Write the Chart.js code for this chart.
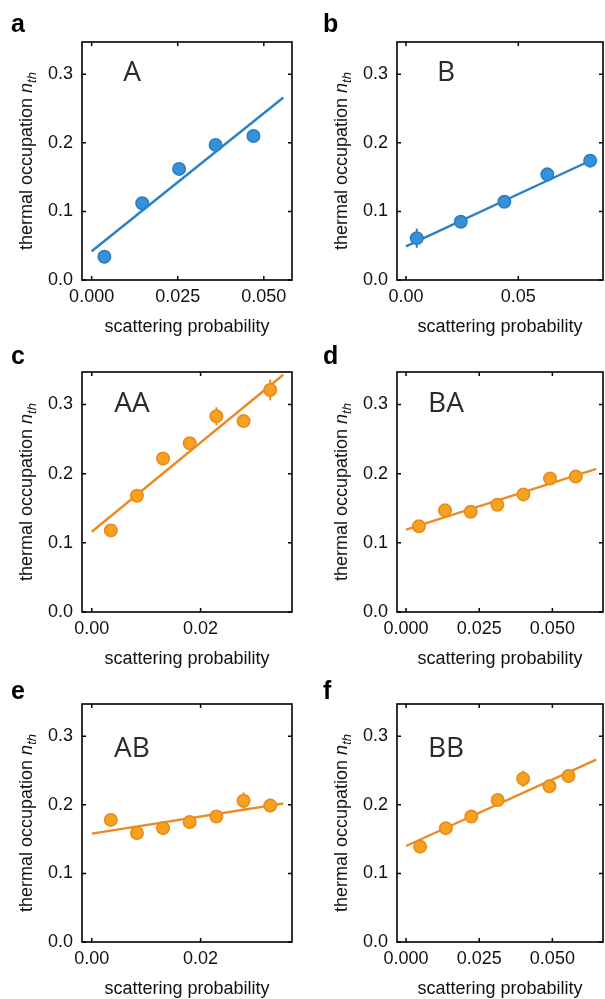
<!DOCTYPE html>
<html>
<head>
<meta charset="utf-8">
<script src="https://cdn.jsdelivr.net/npm/chart.js@4/dist/chart.umd.min.js"></script>
<style>
  html, body { margin: 0; padding: 0; background: #fff; }
  #fig { position: relative; width: 605px; height: 999px; overflow: hidden; font-family: "Liberation Sans", Arial, sans-serif; }
  canvas { position: absolute; }
  .letter { position: absolute; font-weight: bold; font-size: 25px; line-height: 25px; color: #000; }
  .inset { position: absolute; font-family: "Open Sans", sans-serif; font-size: 28px; line-height: 28px; color: #2b2b2b; transform: translate(-50%, -50%); white-space: nowrap; }
  .ytitle { position: absolute; font-size: 18px; line-height: 18px; color: #111; white-space: nowrap; transform: translate(-50%, -50%) rotate(-90deg); }
  .ytitle sub { font-size: 13px; vertical-align: baseline; position: relative; top: 4px; }
</style>
</head>
<body>
<div id="fig"></div>
<script>
// ---------- data ----------
// a : A (blue)
const xA = [0.0037, 0.0147, 0.0254, 0.0360, 0.0470];
const yA = [0.034, 0.112, 0.162, 0.197, 0.210];
const errA = [0.004, 0.004, 0.004, 0.004, 0.004];
const fitXA = [0.0, 0.0557];
const fitYA = [0.042, 0.266];

// b : B (blue)
const xB = [0.0048, 0.0244, 0.0438, 0.0629, 0.0820];
const yB = [0.061, 0.085, 0.114, 0.154, 0.174];
const errB = [0.014, 0.004, 0.004, 0.004, 0.004];
const fitXB = [0.0, 0.0834];
const fitYB = [0.049, 0.176];

// c : AA (orange)
const xAA = [0.0035, 0.0083, 0.0131, 0.0180, 0.0229, 0.0279, 0.0328];
const yAA = [0.118, 0.168, 0.222, 0.244, 0.283, 0.276, 0.321];
const errAA = [0.005, 0.006, 0.005, 0.007, 0.013, 0.009, 0.015];
const fitXAA = [0.0, 0.0352];
const fitYAA = [0.116, 0.343];

// d : BA (orange)
const xBA = [0.0044, 0.0133, 0.0221, 0.0312, 0.0401, 0.0492, 0.0580];
const yBA = [0.124, 0.147, 0.145, 0.155, 0.170, 0.193, 0.196];
const errBA = [0.005, 0.005, 0.005, 0.005, 0.005, 0.005, 0.005];
const fitXBA = [0.0, 0.065];
const fitYBA = [0.119, 0.207];

// e : AB (orange)
const xAB = [0.0035, 0.0083, 0.0131, 0.0180, 0.0229, 0.0279, 0.0328];
const yAB = [0.178, 0.159, 0.166, 0.175, 0.183, 0.206, 0.199];
const errAB = [0.009, 0.006, 0.006, 0.007, 0.008, 0.012, 0.010];
const fitXAB = [0.0, 0.0352];
const fitYAB = [0.158, 0.202];

// f : BB (orange)
const xBB = [0.0048, 0.0136, 0.0223, 0.0313, 0.0400, 0.0490, 0.0555];
const yBB = [0.139, 0.166, 0.183, 0.207, 0.238, 0.227, 0.242];
const errBB = [0.006, 0.006, 0.006, 0.007, 0.012, 0.010, 0.010];
const fitXBB = [0.0, 0.065];
const fitYBB = [0.140, 0.266];

// tick values / labels
const yTicks = [0, 0.1, 0.2, 0.3];
const yTickLabels = ["0.0", "0.1", "0.2", "0.3"];
const xTicksA = [0, 0.025, 0.05];
const xTickLabelsA = ["0.000", "0.025", "0.050"];
const xTicksB = [0, 0.05];
const xTickLabelsB = ["0.00", "0.05"];
const xTicksAA = [0, 0.02];
const xTickLabelsAA = ["0.00", "0.02"];
const xTicksBA = [0, 0.025, 0.05];
const xTickLabelsBA = ["0.000", "0.025", "0.050"];

const xTitle = "scattering probability";

// ---------- colours ----------
const BLUE_FILL = "#3691d8", BLUE_EDGE = "#2a7fc2", BLUE_LINE = "#2c80c3";
const ORANGE_FILL = "#f4a21f", ORANGE_EDGE = "#e98a1e", ORANGE_LINE = "#eb8b25";

// ---------- panels ----------
const panels = [
    { letter: "a", name: "A",  x: xA,  y: yA,  err: errA,  fx: fitXA,  fy: fitYA,  xt: xTicksA,  xl: xTickLabelsA,  xmin: -0.0028, xmax: 0.0582, col: 0, row: 0, blue: true },
    { letter: "b", name: "B",  x: xB,  y: yB,  err: errB,  fx: fitXB,  fy: fitYB,  xt: xTicksB,  xl: xTickLabelsB,  xmin: -0.004,  xmax: 0.0877, col: 1, row: 0, blue: true },
    { letter: "c", name: "AA", x: xAA, y: yAA, err: errAA, fx: fitXAA, fy: fitYAA, xt: xTicksAA, xl: xTickLabelsAA, xmin: -0.0018, xmax: 0.0368, col: 0, row: 1 },
    { letter: "d", name: "BA", x: xBA, y: yBA, err: errBA, fx: fitXBA, fy: fitYBA, xt: xTicksBA, xl: xTickLabelsBA, xmin: -0.0031, xmax: 0.0673, col: 1, row: 1 },
    { letter: "e", name: "AB", x: xAB, y: yAB, err: errAB, fx: fitXAB, fy: fitYAB, xt: xTicksAA, xl: xTickLabelsAA, xmin: -0.0018, xmax: 0.0368, col: 0, row: 2 },
    { letter: "f", name: "BB", x: xBB, y: yBB, err: errBB, fx: fitXBB, fy: fitYBB, xt: xTicksBA, xl: xTickLabelsBA, xmin: -0.0031, xmax: 0.0673, col: 1, row: 2 }
];

// plot box geometry (pixels in the figure)
const colBox = [ { left: 82, right: 292, cLeft: 0, cRight: 300, yTitleX: 27, letterX: 11, insetX: 132 },
                 { left: 397, right: 603, cLeft: 305, cRight: 605, yTitleX: 342, letterX: 323, insetX: 446 } ];
const rowBox = [ { top: 42, bottom: 280, letterTop: 11, insetY: 70 },
                 { top: 372, bottom: 612, letterTop: 343, insetY: 401 },
                 { top: 704, bottom: 942, letterTop: 678, insetY: 746 } ];
const PAD_TOP = 12, X_AXIS_H = 58;

function noPad(s) {
    s.paddingTop = 0; s.paddingBottom = 0; s.paddingLeft = 0; s.paddingRight = 0;
}

// error bars, drawn under the markers
const errorBars = {
    id: "errorBars",
    beforeDatasetsDraw(chart, args, opts) {
        const { ctx, scales: { x, y } } = chart;
        const p = opts.panel;
        ctx.save();
        ctx.strokeStyle = p.blue ? BLUE_EDGE : ORANGE_EDGE;
        ctx.lineWidth = 2;
        p.x.forEach((xv, i) => {
            const px = x.getPixelForValue(xv);
            ctx.beginPath();
            ctx.moveTo(px, y.getPixelForValue(p.y[i] - p.err[i]));
            ctx.lineTo(px, y.getPixelForValue(p.y[i] + p.err[i]));
            ctx.stroke();
        });
        ctx.restore();
    }
};

// box frame with inward ticks on all four sides
const frame = {
    id: "frame",
    afterDraw(chart) {
        const { ctx, chartArea: a, scales: { x, y } } = chart;
        ctx.save();
        ctx.strokeStyle = "#000";
        ctx.lineWidth = 1.6;
        ctx.strokeRect(a.left, a.top, a.right - a.left, a.bottom - a.top);
        ctx.lineWidth = 1.5;
        const L = 4;
        ctx.beginPath();
        x.ticks.forEach(t => {
            const px = x.getPixelForValue(t.value);
            ctx.moveTo(px, a.bottom); ctx.lineTo(px, a.bottom - L);
            ctx.moveTo(px, a.top); ctx.lineTo(px, a.top + L);
        });
        y.ticks.forEach(t => {
            const py = y.getPixelForValue(t.value);
            ctx.moveTo(a.left, py); ctx.lineTo(a.left + L, py);
            ctx.moveTo(a.right, py); ctx.lineTo(a.right - L, py);
        });
        ctx.stroke();
        ctx.restore();
    }
};

const fig = document.getElementById("fig");
const tickFont = { family: "'Liberation Sans', Arial, sans-serif", size: 18 };

panels.forEach(p => {
    const cb = colBox[p.col], rb = rowBox[p.row];
    const cTop = rb.top - PAD_TOP;
    const cH = rb.bottom - cTop + X_AXIS_H;
    const cW = cb.cRight - cb.cLeft;

    const canvas = document.createElement("canvas");
    canvas.width = cW; canvas.height = cH;
    canvas.style.left = cb.cLeft + "px";
    canvas.style.top = cTop + "px";
    canvas.style.width = cW + "px";
    canvas.style.height = cH + "px";
    fig.appendChild(canvas);

    new Chart(canvas.getContext("2d"), {
        type: "scatter",
        data: {
            datasets: [
                {
                    label: p.name,
                    data: p.x.map((xv, i) => ({ x: xv, y: p.y[i] })),
                    backgroundColor: p.blue ? BLUE_FILL : ORANGE_FILL,
                    borderColor: p.blue ? BLUE_EDGE : ORANGE_EDGE,
                    borderWidth: 1.6,
                    pointRadius: 6.2,
                    showLine: false
                },
                {
                    label: p.name + " fit",
                    data: p.fx.map((xv, i) => ({ x: xv, y: p.fy[i] })),
                    borderColor: p.blue ? BLUE_LINE : ORANGE_LINE,
                    borderWidth: 2.4,
                    pointRadius: 0,
                    showLine: true
                }
            ]
        },
        options: {
            responsive: false,
            animation: false,
            devicePixelRatio: 1,
            layout: { autoPadding: false, padding: { top: PAD_TOP, left: 0, bottom: 0, right: cb.cRight - cb.right } },
            plugins: {
                legend: { display: false },
                tooltip: { enabled: false },
                errorBars: { panel: p }
            },
            scales: {
                x: {
                    type: "linear",
                    min: p.xmin,
                    max: p.xmax,
                    afterBuildTicks: s => { s.ticks = p.xt.map(v => ({ value: v })); },
                    afterFit: s => { s.height = X_AXIS_H; noPad(s); },
                    grid: { display: false, drawTicks: false },
                    border: { display: false },
                    ticks: {
                        padding: 6,
                        color: "#111",
                        font: tickFont,
                        maxRotation: 0,
                        callback: (v, i) => p.xl[i]
                    },
                    title: {
                        display: true,
                        text: xTitle,
                        color: "#111",
                        font: tickFont,
                        padding: { top: 0, bottom: 0 }
                    }
                },
                y: {
                    type: "linear",
                    min: 0,
                    max: 0.347,
                    afterBuildTicks: s => { s.ticks = yTicks.map(v => ({ value: v })); },
                    afterFit: s => { s.width = cb.left - cb.cLeft; noPad(s); },
                    grid: { display: false, drawTicks: false },
                    border: { display: false },
                    ticks: {
                        padding: 9,
                        color: "#111",
                        font: tickFont,
                        callback: (v, i) => yTickLabels[i]
                    }
                }
            }
        },
        plugins: [errorBars, frame]
    });

    // panel letter
    const let_ = document.createElement("div");
    let_.className = "letter";
    let_.style.left = cb.letterX + "px";
    let_.style.top = rb.letterTop + "px";
    let_.textContent = p.letter;
    fig.appendChild(let_);

    // inset label
    const ins = document.createElement("div");
    ins.className = "inset";
    ins.style.left = cb.insetX + "px";
    ins.style.top = rb.insetY + "px";
    ins.textContent = p.name;
    fig.appendChild(ins);

    // y title with subscript
    const yt = document.createElement("div");
    yt.className = "ytitle";
    yt.style.left = cb.yTitleX + "px";
    yt.style.top = ((rb.top + rb.bottom) / 2) + "px";
    yt.innerHTML = "thermal occupation <i>n<sub>th</sub></i>";
    fig.appendChild(yt);
});
</script>
</body>
</html>
